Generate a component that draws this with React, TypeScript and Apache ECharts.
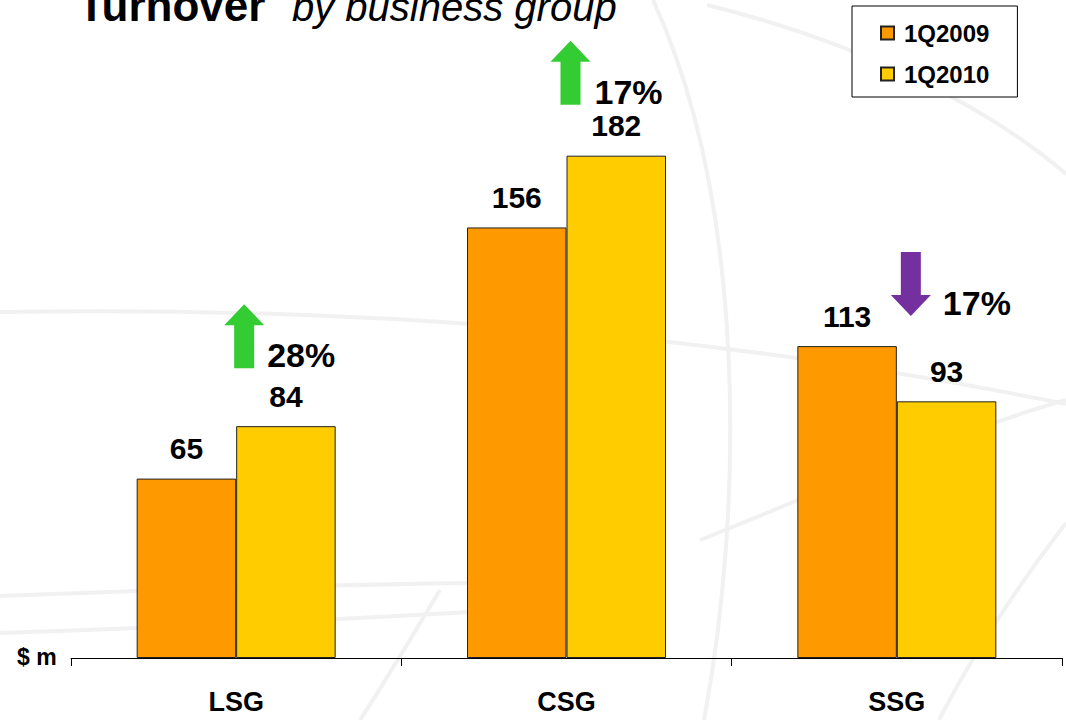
import React, { useEffect, useRef } from "react";
import * as echarts from "echarts";

// Turnover by business group, $ m
const categories = ["LSG", "CSG", "SSG"];
const seriesNames = ["1Q2009", "1Q2010"];
const turnover2009 = [65, 156, 113];
const turnover2010 = [84, 182, 93];
const changePct = [28, 17, 17];
const changeDir = ["up", "up", "down"];

const ORANGE = "#FF9900";
const YELLOW = "#FFCC00";
const GREEN = "#33CC33";
const PURPLE = "#7530A0";
const FONT = "'Liberation Sans', Arial, sans-serif";

// Layout for the change arrows, relative to each category centre / tallest bar
const arrowShift = [8, 4, 14];
const arrowLift = [58, 51, 30];
const pctGap = [3, 4, 12];

function arrowPoints(cx: number, top: number, dir: string): number[][] {
  const headW = 20, shaftW = 10, headH = 21, total = 64;
  if (dir === "up") {
    return [
      [cx, top],
      [cx + headW, top + headH],
      [cx + shaftW, top + headH],
      [cx + shaftW, top + total],
      [cx - shaftW, top + total],
      [cx - shaftW, top + headH],
      [cx - headW, top + headH],
    ];
  }
  return [
    [cx - shaftW, top],
    [cx + shaftW, top],
    [cx + shaftW, top + total - headH],
    [cx + headW, top + total - headH],
    [cx, top + total],
    [cx - headW, top + total - headH],
    [cx - shaftW, top + total - headH],
  ];
}

// faint decorative strokes in the slide background
const backdrop = [
  [0, 312, 400, 305, 750, 340, 1066, 404],
  [707, 5, 850, 40, 980, 100, 1066, 174],
  [653, 0, 745, 200, 745, 500, 704, 720],
  [0, 596, 150, 590, 330, 585, 470, 583],
  [0, 633, 150, 628, 330, 620, 470, 612],
  [700, 540, 850, 480, 960, 430, 1066, 400],
  [939, 720, 980, 640, 1030, 570, 1066, 523],
  [440, 590, 410, 640, 380, 690, 360, 720],
];

export default function App() {
  const ref = useRef<HTMLDivElement>(null);

  useEffect(() => {
    if (!ref.current) return;
    const chart = echarts.init(ref.current, null, { renderer: "svg" });

    const barLabel = {
      show: true,
      position: "top",
      distance: 15,
      color: "#000",
      fontFamily: FONT,
      fontWeight: "bold",
      fontSize: 30,
    };

    chart.setOption({
      animation: false,
      backgroundColor: "#fff",
      grid: { left: 71, right: 4, top: 106, bottom: 62 },
      legend: {
        orient: "vertical",
        left: 852,
        top: 6,
        data: seriesNames,
        icon: "rect",
        itemWidth: 13,
        itemHeight: 13,
        itemGap: 17,
        padding: [15, 28, 11, 28],
        borderColor: "#000",
        borderWidth: 1,
        backgroundColor: "#fff",
        textStyle: {
          fontFamily: FONT,
          fontWeight: "bold",
          fontSize: 24,
          color: "#000",
          padding: [0, 0, 0, 5],
        },
      },
      xAxis: {
        type: "category",
        data: categories,
        axisLine: { lineStyle: { color: "#000", width: 1 } },
        axisTick: { show: true, length: 8, lineStyle: { color: "#000" } },
        axisLabel: {
          margin: 30,
          color: "#000",
          fontFamily: FONT,
          fontWeight: "bold",
          fontSize: 27,
        },
      },
      yAxis: { type: "value", min: 0, max: 200, show: false },
      series: [
        {
          name: seriesNames[0],
          type: "bar",
          data: turnover2009,
          barWidth: 99.5,
          barGap: "0%",
          itemStyle: { color: ORANGE, borderColor: "#222", borderWidth: 1 },
          label: barLabel,
        },
        {
          name: seriesNames[1],
          type: "bar",
          data: turnover2010,
          barWidth: 99.5,
          barGap: "0%",
          itemStyle: { color: YELLOW, borderColor: "#222", borderWidth: 1 },
          label: barLabel,
        },
      ],
    });

    const graphics: any[] = backdrop.map((c) => ({
      type: "bezierCurve",
      z: -10,
      silent: true,
      shape: { x1: c[0], y1: c[1], cpx1: c[2], cpy1: c[3], cpx2: c[4], cpy2: c[5], x2: c[6], y2: c[7] },
      style: { stroke: "#f1f1f1", lineWidth: 4, fill: null },
    }));

    graphics.push(
      {
        type: "text",
        x: 78,
        y: 5,
        style: {
          text: "Turnover",
          fontFamily: FONT,
          fontWeight: "bold",
          fontSize: 44,
          fill: "#000",
          verticalAlign: "middle",
        },
      },
      {
        type: "text",
        x: 292,
        y: 7,
        style: {
          text: "by business group",
          fontFamily: FONT,
          fontStyle: "italic",
          fontSize: 40,
          fill: "#000",
          verticalAlign: "middle",
        },
      },
      {
        type: "text",
        x: 17,
        y: 657,
        style: {
          text: "$ m",
          fontFamily: FONT,
          fontWeight: "bold",
          fontSize: 23,
          fill: "#000",
          verticalAlign: "middle",
        },
      }
    );

    categories.forEach((cat, i) => {
      const top = Math.max(turnover2009[i], turnover2010[i]);
      const p = chart.convertToPixel({ gridIndex: 0 }, [i, top]) as number[];
      const cx = p[0] + arrowShift[i];
      const bottom = p[1] - arrowLift[i];
      const arrowTop = bottom - 64;
      graphics.push({
        type: "polygon",
        shape: { points: arrowPoints(cx, arrowTop, changeDir[i]) },
        style: { fill: changeDir[i] === "up" ? GREEN : PURPLE },
      });
      graphics.push({
        type: "text",
        x: cx + 20 + pctGap[i],
        y: bottom - 13,
        style: {
          text: changePct[i] + "%",
          fontFamily: FONT,
          fontWeight: "bold",
          fontSize: 34,
          fill: "#000",
          verticalAlign: "middle",
        },
      });
    });

    chart.setOption({ graphic: graphics });

    return () => chart.dispose();
  }, []);

  return (
    <div
      ref={ref}
      style={{ position: "absolute", left: 0, top: 0, width: 1066, height: 720, background: "#fff" }}
    />
  );
}
